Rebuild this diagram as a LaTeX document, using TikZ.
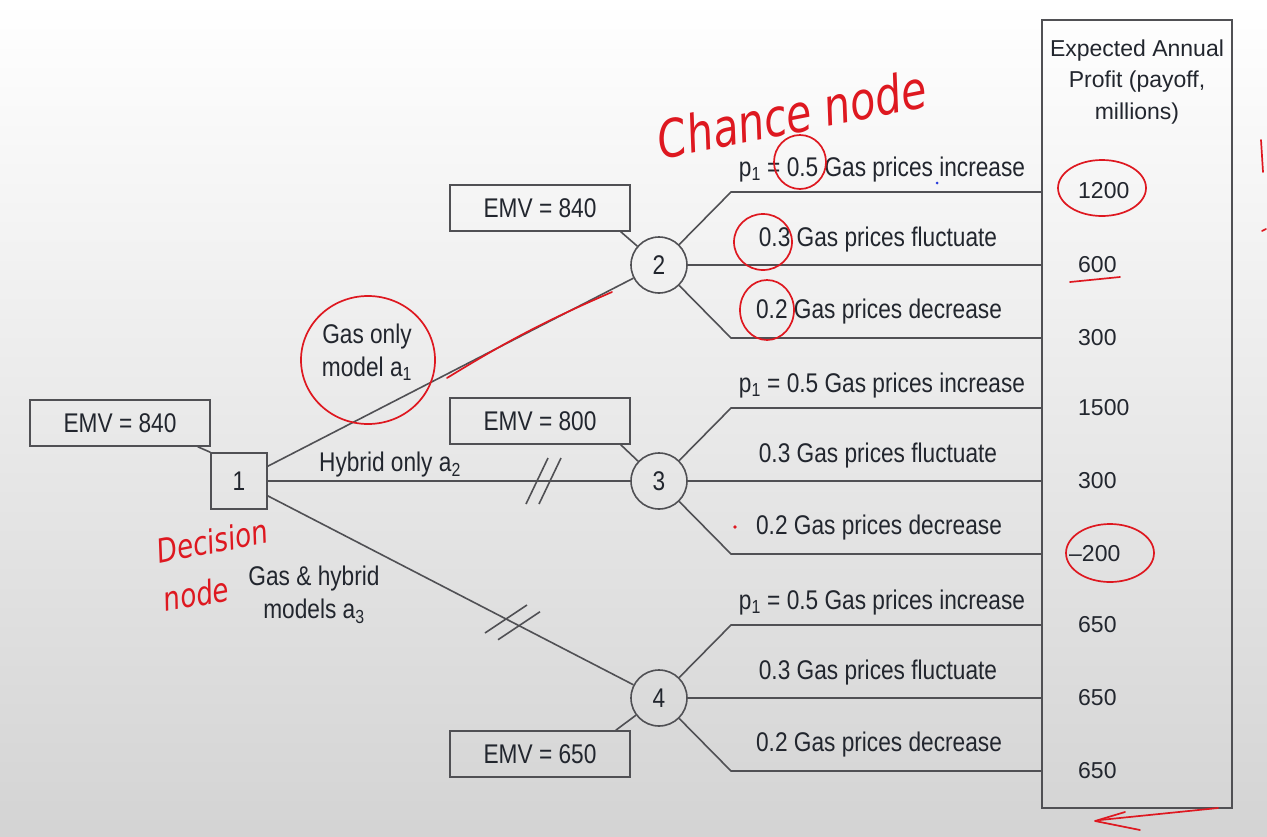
\documentclass[tikz,border=0pt]{standalone}
\usepackage{fontspec}
\setmainfont{Liberation Sans}[FakeStretch=0.84]
\newfontfamily\payofffont{Liberation Sans}
\newfontfamily\penfont{DejaVu Sans}[FakeStretch=0.8]
\usetikzlibrary{positioning,calc}

\definecolor{treeline}{RGB}{80,80,84}
\definecolor{treetext}{RGB}{34,38,46}
\definecolor{penred}{RGB}{222,24,32}
\definecolor{penblue}{RGB}{40,60,220}

\newcommand\lblsize{\fontsize{27}{33}\selectfont}
\newcommand\paysize{\payofffont\fontsize{23}{31.5}\selectfont}

\begin{document}
\begin{tikzpicture}[x=1pt,y=-1pt,
    % Stílusok a döntési fához
    branch/.style={draw=treeline, line width=1.6pt},
    decision/.style={draw=treeline, line width=1.6pt, minimum size=56pt, inner sep=0pt, text=treetext, font=\lblsize},
    chance/.style={circle, draw=treeline, line width=1.6pt, minimum size=56pt, inner sep=0pt, text=treetext, font=\lblsize},
    emvbox/.style={draw=treeline, line width=1.5pt, minimum width=180pt, minimum height=46pt, inner sep=0pt, text=treetext, font=\lblsize},
    payoffbox/.style={draw=treeline, line width=1.8pt, minimum width=190pt, minimum height=788pt, inner sep=0pt},
    lbl/.style={text=treetext, font=\lblsize, inner sep=0pt},
    payval/.style={text=treetext, font=\paysize, inner sep=0pt, anchor=west},
    % Kézírásos jelölések
    pen/.style={draw=penred, line width=1.7pt, line cap=round, line join=round},
    pentext/.style={text=penred, inner sep=0pt, font=\penfont\itshape\fontsize{33}{33}\selectfont}
]

    % Háttér
    \shade[top color=white, middle color=black!2, bottom color=black!17] (0,0) rectangle (1267,836);
    \useasboundingbox (0,0) rectangle (1267,836);

    % Csomópontok
    \node[emvbox] (emv1) at (120,423) {EMV = 840};
    \node[decision] (d1) at (239,481) {1};
    \node[chance] (c2) at (659,265) {2};
    \node[chance] (c3) at (659,481) {3};
    \node[chance] (c4) at (659,698) {4};
    \node[emvbox] (emv2) at (540,208) {EMV = 840};
    \node[emvbox] (emv3) at (540,421) {EMV = 800};
    \node[emvbox] (emv4) at (540,754) {EMV = 650};
    \node[payoffbox] (payoff) at (1137,414) {};

    % EMV dobozok összekötése
    \draw[branch] ($(emv1.south east)+(-13,0)$) -- (d1.north west);
    \draw[branch] ($(emv2.south east)+(-10,0)$) -- (c2);
    \draw[branch] ($(emv3.south east)+(-10,0)$) -- (c3);
    \draw[branch] ($(emv4.north east)+(-15,0)$) -- (c4);

    % Döntési ágak
    \draw[branch] (d1) -- (c2);
    \draw[branch] (d1) -- (c3);
    \draw[branch] (d1) -- (c4);
    \node[lbl, align=center] (a1) at (367,352) {Gas only\\model a\textsubscript{1}};
    \node[lbl] (a2) at (390,465) {Hybrid only a\textsubscript{2}};
    \node[lbl, align=center] (a3) at (314,595) {Gas \& hybrid\\models a\textsubscript{3}};

    % Elvetett ágak jelölése (//)
    \coordinate (cut3) at (537,481);
    \coordinate (cut4) at (506,619);
    \foreach \d in {0,13}{
        \draw[branch] ($(cut3)+(\d,0)+(-11,23)$) -- ($(cut3)+(\d,0)+(11,-23)$);
        \draw[branch] ($(cut4)+(\d,6.7*\d/13)+(-21,14)$) -- ($(cut4)+(\d,6.7*\d/13)+(21,-14)$);
    }

    % Esélyágak és feliratok
    \foreach \c/\y in {c2/265, c3/481, c4/698}{
        \coordinate (\c up) at (731,\y-73);
        \coordinate (\c down) at (731,\y+73);
        \draw[branch] (\c) -- (\c up) -- (payoff.west |- \c up);
        \draw[branch] (\c) -- (payoff.west |- \c);
        \draw[branch] (\c) -- (\c down) -- (payoff.west |- \c down);
        \node[lbl, anchor=base] (\c inc) at (882,\y-89) {p\textsubscript{1} = 0.5 Gas prices increase};
        \node[lbl, anchor=base] (\c fluc) at (878,\y-19) {0.3 Gas prices fluctuate};
        \node[lbl, anchor=base] (\c dec) at (879,\y+53) {0.2 Gas prices decrease};
    }

    % Kifizetések
    \node[text=treetext, font=\paysize, align=center] (payhead) at (1137,82) {Expected Annual\\Profit (payoff,\\millions)};
    \node[payval] (v1) at (1078,191) {1200};
    \node[payval] (v2) at (1078,265) {600};
    \node[payval] (v3) at (1078,338) {300};
    \node[payval] (v4) at (1078,408) {1500};
    \node[payval] (v5) at (1078,481) {300};
    \node[payval] (v6) at (1069,554) {–200};
    \node[payval] (v7) at (1078,625) {650};
    \node[payval] (v8) at (1078,698) {650};
    \node[payval] (v9) at (1078,771) {650};

    % Kézírásos jegyzetek pirossal
    \node[pentext, font=\penfont\itshape\fontsize{52}{52}\selectfont, rotate=11] (chancenote) at (792,114) {Chance node};
    \node[pentext, rotate=11] (decnote1) at (212,541) {Decision};
    \node[pentext, rotate=10] (decnote2) at (196,594) {node};
    \draw[pen] (800,162) ellipse [x radius=26, y radius=27];
    \draw[pen] (763,242) ellipse [x radius=29, y radius=28];
    \draw[pen] (767,310) ellipse [x radius=27, y radius=30];
    \draw[pen] (368,360) ellipse [x radius=67, y radius=64];
    \draw[pen] (1102,188) ellipse [x radius=44, y radius=28];
    \draw[pen] (1110,553) ellipse [x radius=44, y radius=29];
    \draw[pen] (447,378) to[bend left=4] (612,292);
    \draw[pen] (1070,282) -- (1120,277);
    \draw[pen] (1218,808) -- (1100,820);
    \draw[pen] (1125,812) -- (1095,821) -- (1140,830);
    \draw[pen] (1261,140) -- (1263,172);
    \draw[pen] (1262,231) -- (1266,229);
    \fill[penred] (735,527) circle (1.8);
    \fill[penblue] (937,183) circle (1.5);
\end{tikzpicture}
\end{document}
